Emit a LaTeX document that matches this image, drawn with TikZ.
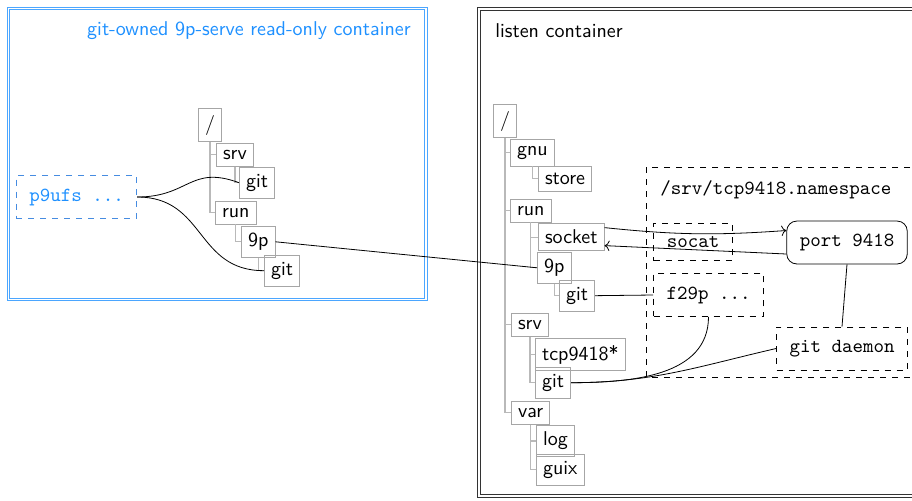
\documentclass[tikz,border=0pt]{standalone}
\usepackage{tikz}
\usetikzlibrary{arrows.meta,positioning}
\definecolor{ownblue}{RGB}{30,144,255}
\definecolor{boxblue}{RGB}{70,140,225}

\begin{document}
\begin{tikzpicture}[
    x=0.5pt, y=-0.5pt,
    dir/.style={draw=gray!70,anchor=north west,font=\sffamily},
    treeline/.style={draw=gray!55,line width=0.6pt},
    proc/.style={draw,dashed,font=\ttfamily,inner sep=6.5pt},
    port/.style={draw,rounded corners=5pt,font=\ttfamily,inner sep=6.5pt},
    link/.style={draw,thin}
  ]
    \useasboundingbox (0,0) rectangle (912,500);
    \clip (0,0) rectangle (912,500);

    % Containers
    \draw[draw=ownblue!80,double=white,double distance=0.9pt,line width=0.45pt]
      (8.5,8.5) rectangle (426,299.5);
    \node[anchor=east,inner sep=0,font=\sffamily,text=ownblue] (owntitle) at (411,31)
      {git-owned 9p-serve read-only container};
    \draw[draw=black!80,double=white,double distance=0.9pt,line width=0.45pt]
      (479,9) rectangle (940,496);
    \node[anchor=west,inner sep=0,font=\sffamily] (listentitle) at (495,31) {listen container};
    \draw[dashed] (646,167) rectangle (940,377);
    \node[anchor=west,inner sep=0,font=\ttfamily] (nstitle) at (660,190) {/srv/tcp9418.namespace};

    % Left tree
    \node[dir] (lroot) at (198,108) {/};
    \node[dir] (lsrv) at (216,143) {srv};
    \node[dir] (lsrvgit) at (239,167) {git};
    \node[dir] (lrun) at (215,201) {run};
    \node[dir] (l9p) at (241,226) {9p};
    \node[dir] (l9pgit) at (264,255) {git};
    \draw[treeline] (lroot.south) |- (lsrv.west);
    \draw[treeline] (lroot.south) |- (lrun.west);
    \draw[treeline] (lsrv.south) |- (lsrvgit.west);
    \draw[treeline] (lrun.south) |- (l9p.west);
    \draw[treeline] (l9p.south) |- (l9pgit.west);

    % Right tree
    \node[dir] (rroot) at (493,104) {/};
    \node[dir] (rgnu) at (510,139) {gnu};
    \node[dir] (rstore) at (538,166) {store};
    \node[dir] (rrun) at (510,199) {run};
    \node[dir] (rsocket) at (538,223) {socket};
    \node[dir] (r9p) at (537,252) {9p};
    \node[dir] (r9pgit) at (559,280) {git};
    \node[dir] (rsrv) at (511,313) {srv};
    \node[dir] (rtcp) at (535,338) {tcp9418*};
    \node[dir] (rsrvgit) at (535,367) {git};
    \node[dir] (rvar) at (511,401) {var};
    \node[dir] (rlog) at (536,425) {log};
    \node[dir] (rguix) at (536,454) {guix};
    \draw[treeline] (rroot.south) |- (rgnu.west);
    \draw[treeline] (rroot.south) |- (rrun.west);
    \draw[treeline] (rroot.south) |- (rsrv.west);
    \draw[treeline] (rroot.south) |- (rvar.west);
    \draw[treeline] (rgnu.south) |- (rstore.west);
    \draw[treeline] (rrun.south) |- (rsocket.west);
    \draw[treeline] (rrun.south) |- (r9p.west);
    \draw[treeline] (r9p.south) |- (r9pgit.west);
    \draw[treeline] (rsrv.south) |- (rtcp.west);
    \draw[treeline] (rsrv.south) |- (rsrvgit.west);
    \draw[treeline] (rvar.south) |- (rlog.west);
    \draw[treeline] (rvar.south) |- (rguix.west);

    % Processes
    \node[proc,draw=boxblue,text=ownblue] (p9ufs) at (76.5,197) {p9ufs ...};
    \node[proc] (socat) at (693,242) {socat};
    \node[port] (port) at (847,242.5) {port 9418};
    \node[proc] (f29p) at (708.5,295) {f29p ...};
    \node[proc] (daemon) at (842,348.5) {git daemon};

    % Links
    \draw[link] (p9ufs.east) to[out=0,in=160,looseness=1.3] (lsrvgit.west);
    \draw[link] (p9ufs.east) to[out=0,in=180,looseness=1.2] (l9pgit.west);
    \draw[link] (l9p.east) -- (r9p.west);
    \draw[link,->] ([yshift=4.75pt]rsocket.east) to[bend right=5] ([yshift=6pt]port.west);
    \draw[link,->] ([yshift=-5.75pt]port.west) -- ([yshift=-4.25pt]rsocket.east);
    \draw[link] (r9pgit.east) -- (f29p.west);
    \draw[link] (f29p.south) to[out=-90,in=0] (rsrvgit.east);
    \draw[link] (daemon.west) to[out=193,in=0] (rsrvgit.east);
    \draw[link] (port.south) -- (daemon.north);
\end{tikzpicture}
\end{document}
